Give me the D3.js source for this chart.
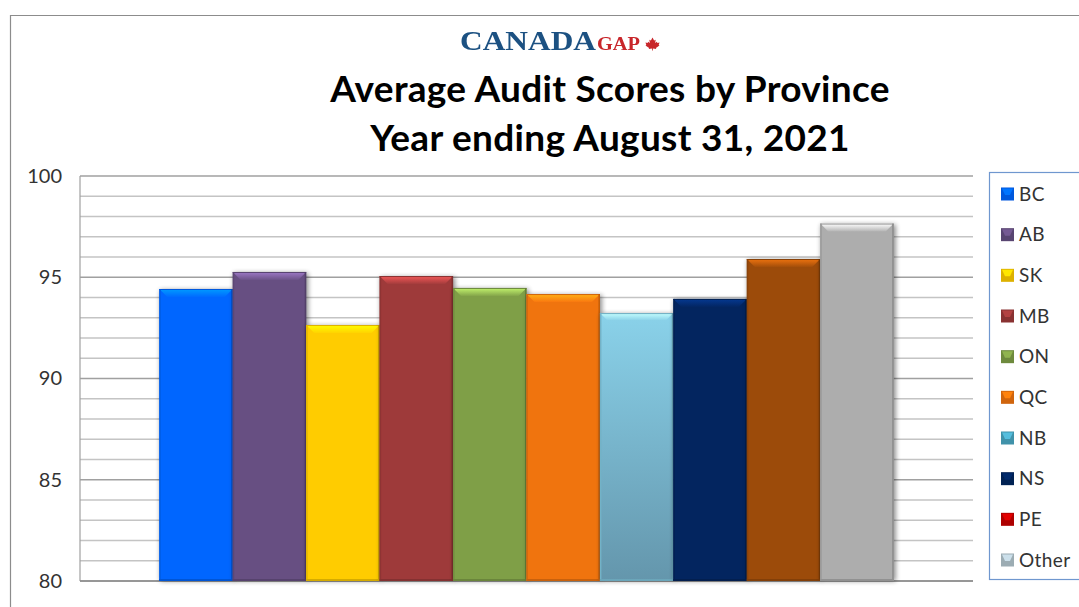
<!DOCTYPE html>
<html>
<head>
<meta charset="utf-8">
<script src="https://cdn.jsdelivr.net/npm/d3@7"></script>
<style>
html, body { margin: 0; padding: 0; background: #fff; }
svg { display: block; font-family: Lato, sans-serif; }
</style>
</head>
<body>
<div id="chart"></div>
<script>
// values
var provinces = ["BC", "AB", "SK", "MB", "ON", "QC", "NB", "NS", "PE", "Other"];
var scores = [94.42, 95.26, 92.64, 95.06, 94.47, 94.17, 93.23, 93.93, 95.9, 97.65];
var barColors = ["#0066ff", "#674f82", "#ffcc00", "#9e3a3a", "#7f9f47", "#f0740e", "#80c6de", "#03255f", "#9c4b0a", "#adadad"];
var legendColors = ["#0066ff", "#674f82", "#ffcc00", "#9e3a3a", "#7f9f47", "#f0740e", "#4ba8c4", "#03255f", "#c80000", "#b4c6cf"];
var yTicks = [80, 85, 90, 95, 100];
var minorTicks = d3.range(80, 101);
var titleLines = ["Average Audit Scores by Province", "Year ending August 31, 2021"];

var width = 1079, height = 607;
var plot = {left: 80, right: 973, top: 176, bottom: 581};

var svg = d3.select("#chart").append("svg").attr("width", width).attr("height", height);
var defs = svg.append("defs");

var shadow = defs.append("filter").attr("id", "shadow")
    .attr("x", "-15%").attr("y", "-5%").attr("width", "130%").attr("height", "110%");
shadow.append("feGaussianBlur").attr("stdDeviation", 2.5);

var soft = defs.append("filter").attr("id", "soft");
soft.append("feGaussianBlur").attr("stdDeviation", 0.45);

var nbGrad = defs.append("linearGradient").attr("id", "nbGrad").attr("x1", 0).attr("y1", 0).attr("x2", 0).attr("y2", 1);
nbGrad.append("stop").attr("offset", "0%").attr("stop-color", "#8ad2ea");
nbGrad.append("stop").attr("offset", "100%").attr("stop-color", "#6496ac");

// one fading gradient per bar for the top bevel
provinces.forEach(function(d, i) {
    var g = defs.append("linearGradient").attr("id", "bevel" + i).attr("x1", 0).attr("y1", 0).attr("x2", 0).attr("y2", 1);
    g.append("stop").attr("offset", "0%").attr("stop-color", d3.rgb(barColors[i]).brighter(1.2));
    g.append("stop").attr("offset", "100%").attr("stop-color", d3.rgb(barColors[i]).brighter(0.1));
});

// outer frame of the screenshot
svg.append("path")
    .attr("d", "M10.5," + height + "V15.5H" + width)
    .attr("fill", "none").attr("stroke", "#8c8c8c").attr("stroke-width", 1.2);

// logo
var logo = svg.append("g").attr("filter", "url(#soft)");
logo.append("text").attr("x", 460).attr("y", 50)
    .attr("textLength", 136).attr("lengthAdjust", "spacingAndGlyphs")
    .style("font-family", "'Liberation Serif', serif").style("font-weight", "bold")
    .style("font-size", "27px").attr("fill", "#1c5182").text("CANADA");
logo.append("text").attr("x", 597).attr("y", 50)
    .attr("textLength", 43).attr("lengthAdjust", "spacingAndGlyphs")
    .style("font-family", "'Liberation Serif', serif").style("font-weight", "bold")
    .style("font-size", "19px").attr("fill", "#c8262c").text("GAP");
logo.append("path")
    .attr("transform", "translate(652.5,43.5)")
    .attr("d", "M0,-6 L1.6,-3 L3.2,-3.8 L2.6,-0.6 L4.4,-1.8 L4.9,-0.5 L7,-0.9 L6.2,1.4 L7,2 L3.4,4.4 L3.8,5.4 L0.4,5 L0.4,7 L-0.4,7 L-0.4,5 L-3.8,5.4 L-3.4,4.4 L-7,2 L-6.2,1.4 L-7,-0.9 L-4.9,-0.5 L-4.4,-1.8 L-2.6,-0.6 L-3.2,-3.8 L-1.6,-3 Z")
    .attr("fill", "#c8262c");

// title
svg.selectAll(".title").data(titleLines).enter().append("text")
    .attr("class", "title")
    .attr("x", 610)
    .attr("y", function(d, i) { return 102 + i * 48.5; })
    .attr("text-anchor", "middle")
    .style("font-size", "37px").style("font-weight", "bold")
    .style("letter-spacing", "0.3px")
    .attr("fill", "#000")
    .text(function(d) { return d; });

var y = d3.scaleLinear().domain([80, 100]).range([plot.bottom, plot.top]);
var x = d3.scaleBand().domain(provinces).range([plot.left, plot.right]).paddingInner(0).paddingOuter(1.08);

// gridlines
svg.append("g").selectAll("line").data(minorTicks).enter().append("line")
    .attr("x1", plot.left).attr("x2", plot.right)
    .attr("y1", function(d) { return y(d); }).attr("y2", function(d) { return y(d); })
    .attr("stroke", function(d) { return d % 5 == 0 ? "#a0a0a0" : "#c4c4c4"; })
    .attr("stroke-width", 1.4);

svg.append("line").attr("x1", plot.left).attr("x2", plot.left)
    .attr("y1", plot.top).attr("y2", plot.bottom)
    .attr("stroke", "#a0a0a0").attr("stroke-width", 1.2);
svg.append("line").attr("x1", plot.left).attr("x2", plot.right)
    .attr("y1", plot.bottom).attr("y2", plot.bottom)
    .attr("stroke", "#8c8c8c").attr("stroke-width", 1.4);

// axis labels
var yAxis = d3.axisLeft(y).tickValues(yTicks).tickSize(0).tickPadding(18);
var axisG = svg.append("g").attr("transform", "translate(" + plot.left + ",0)").call(yAxis);
axisG.select(".domain").remove();
axisG.selectAll("text").style("font-family", "Lato, sans-serif").style("font-size", "20px").attr("fill", "#333");

// bars, each with bevelled edges
var bevelTop = 8, bevelSide = 1.5, bevelCorner = 8;
var bars = svg.append("g").selectAll("g").data(provinces).enter().append("g");

bars.append("rect").attr("class", "barshadow")
    .attr("x", function(d) { return x(d) + 1; })
    .attr("y", function(d, i) { return y(scores[i]) + 1; })
    .attr("width", x.bandwidth() + 1)
    .attr("height", function(d, i) { return plot.bottom - y(scores[i]) - 1; })
    .attr("fill", "#000").attr("opacity", 0.45).attr("filter", "url(#shadow)");

bars.append("rect")
    .attr("x", function(d) { return x(d); })
    .attr("y", function(d, i) { return y(scores[i]); })
    .attr("width", x.bandwidth())
    .attr("height", function(d, i) { return plot.bottom - y(scores[i]); })
    .attr("fill", function(d, i) { return d == "NB" ? "url(#nbGrad)" : barColors[i]; });

function corners(d, i) {
    var x0 = x(d), x1 = x(d) + x.bandwidth(), y0 = y(scores[i]), y1 = plot.bottom;
    return {x0: x0, x1: x1, y0: y0, y1: y1};
}
function pts(list) { return list.map(function(p) { return p.join(","); }).join(" "); }

// top bevel
bars.append("polygon")
    .attr("points", function(d, i) {
        var c = corners(d, i);
        return pts([[c.x0, c.y0], [c.x1, c.y0], [c.x1 - bevelCorner, c.y0 + bevelTop], [c.x0 + bevelCorner, c.y0 + bevelTop]]);
    })
    .attr("fill", function(d, i) { return "url(#bevel" + i + ")"; });
// thin dark line on top of the bevel
bars.append("line")
    .attr("x1", function(d) { return x(d); })
    .attr("x2", function(d) { return x(d) + x.bandwidth(); })
    .attr("y1", function(d, i) { return y(scores[i]) + 0.5; })
    .attr("y2", function(d, i) { return y(scores[i]) + 0.5; })
    .attr("stroke", function(d, i) { return d3.rgb(barColors[i]).darker(0.4); })
    .attr("stroke-width", 1);
// side edges, only slightly darker than the bar
bars.append("rect")
    .attr("x", function(d) { return x(d); })
    .attr("y", function(d, i) { return y(scores[i]); })
    .attr("width", bevelSide)
    .attr("height", function(d, i) { return plot.bottom - y(scores[i]); })
    .attr("fill", function(d, i) { return d3.rgb(barColors[i]).darker(0.3); });
bars.append("rect")
    .attr("x", function(d) { return x(d) + x.bandwidth() - bevelSide; })
    .attr("y", function(d, i) { return y(scores[i]); })
    .attr("width", bevelSide)
    .attr("height", function(d, i) { return plot.bottom - y(scores[i]); })
    .attr("fill", function(d, i) { return d3.rgb(barColors[i]).darker(0.6); });
// bottom bevel
bars.append("rect")
    .attr("x", function(d) { return x(d); })
    .attr("y", plot.bottom - 2)
    .attr("width", x.bandwidth())
    .attr("height", 2)
    .attr("fill", function(d, i) { return d3.rgb(barColors[i]).darker(0.5); });

// legend
var legendY = d3.scalePoint().domain(provinces).range([194, 560]);
svg.append("rect")
    .attr("x", 989.5).attr("y", 172.5).attr("width", 100).attr("height", 407)
    .attr("fill", "#fff").attr("stroke", "#6f97cf").attr("stroke-width", 1.2);

var items = svg.append("g").selectAll("g").data(provinces).enter().append("g")
    .attr("transform", function(d) { return "translate(1001," + legendY(d) + ")"; });

var swatch = items.append("g").attr("filter", "url(#soft)");
swatch.append("rect").attr("x", 0).attr("y", -6.5).attr("width", 13).attr("height", 13)
    .attr("fill", function(d, i) { return d3.rgb(legendColors[i]).darker(0.4); });
swatch.append("polygon").attr("points", "1,-5.5 12,-5.5 9,1 4,1")
    .attr("fill", function(d, i) { return d3.rgb(legendColors[i]).brighter(0.35); });
items.append("text").attr("x", 18).attr("y", 6.5)
    .style("font-size", "19px").style("letter-spacing", "0.4px").attr("fill", "#333")
    .text(function(d) { return d; });
</script>
</body>
</html>
